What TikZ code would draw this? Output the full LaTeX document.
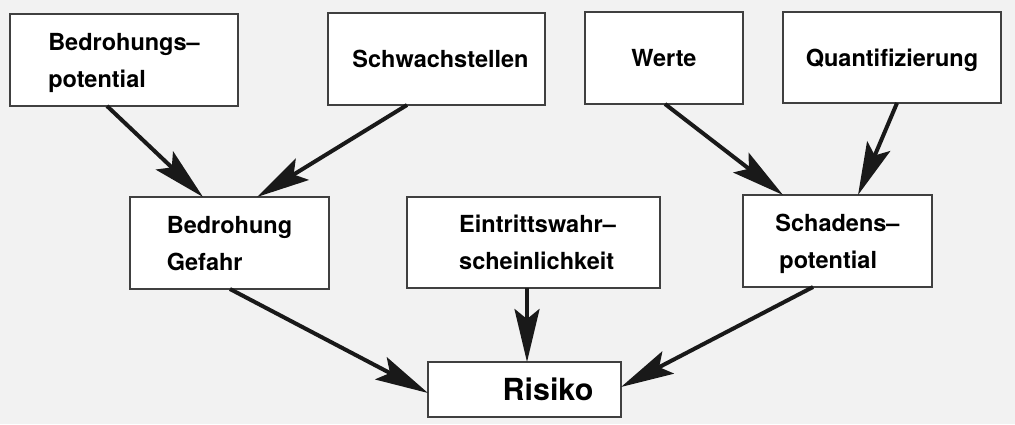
\documentclass[tikz,border=0pt]{standalone}
\usepackage{fontspec}
\setmainfont{TeX Gyre Heros}
\usetikzlibrary{arrows.meta, calc}
\tikzset{
    box/.style={draw=black!75, line width=0.8pt, fill=white, align=left, inner sep=0pt, outer sep=0pt,
        text depth=-3pt, font=\bfseries\fontsize{11.75}{18.5}\selectfont},
    arrow/.style={-{Stealth[length=26.5pt, width=12.5pt, inset=5pt]}, line width=2pt, black!90}
}

\begin{document}
\begin{tikzpicture}[x=0.5pt, y=-0.5pt]
        \useasboundingbox[fill=black!5] (0,0) rectangle (1015,424);
        % obere Reihe
        \node [box, minimum width=114pt, minimum height=46pt] (bpot) at (124,60) {Bedrohungs--\\potential};
        \node [box, minimum width=108.5pt, minimum height=46pt] (schw) at (436.5,59) {\hspace*{4pt}Schwachstellen};
        \node [box, minimum width=79pt, minimum height=46pt] (werte) at (664,58) {Werte};
        \node [box, minimum width=109pt, minimum height=45.5pt] (quant) at (892,57.5) {Quantifizierung};
        % mittlere Reihe
        \node [box, minimum width=99.5pt, minimum height=46pt] (bedr) at (229.5,243) {Bedrohung\\Gefahr};
        \node [box, minimum width=126.5pt, minimum height=45.5pt] (eintr) at (533.5,242.5) {\hspace*{4pt}Eintrittswahr--\\\hspace*{4pt}scheinlichkeit};
        \node [box, minimum width=94.5pt, minimum height=46pt] (schad) at (837.5,241) {Schadens--\\\hspace*{2pt}potential};
        % unten
        \node [box, minimum width=96.5pt, minimum height=27.5pt, text depth=0pt, font=\bfseries\fontsize{15.2}{18}\selectfont] (risiko) at (524.5,389.5) {\hspace*{23.5pt}Risiko};

        \draw [arrow] ($(bpot.south)+(-17,0)$) -- ($(bedr.north)+(-26.5,0)$);
        \draw [arrow] ($(schw.south)+(-29.5,0)$) -- ($(bedr.north)+(27.5,0)$);
        \draw [arrow] ($(werte.south)+(1,0)$) -- ($(schad.north)+(-54.5,0)$);
        \draw [arrow] ($(quant.south)+(5,0)$) -- ($(schad.north)+(20.5,0)$);
        \draw [arrow] ($(bedr.south)+(0.5,0)$) -- ($(risiko.west)+(0,3.5)$);
        \draw [arrow] ($(eintr.south)+(-6.5,0)$) -- ($(risiko.north)+(2.5,0)$);
        \draw [arrow] ($(schad.south)+(-24.5,0)$) -- ($(risiko.east)+(0,-2.5)$);
    \end{tikzpicture}
\end{document}
